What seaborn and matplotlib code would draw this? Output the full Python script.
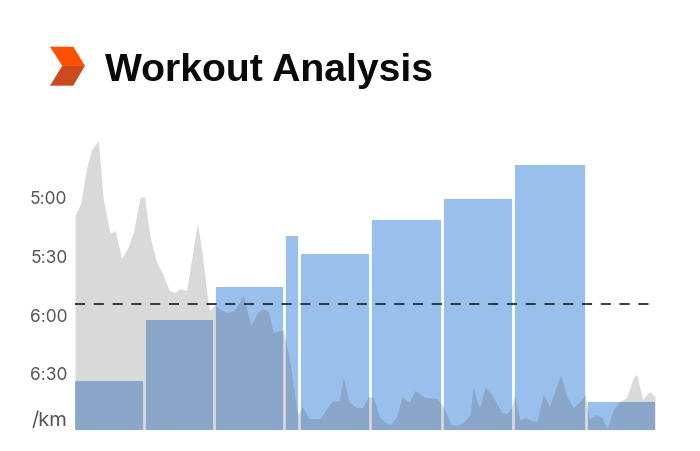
import matplotlib
matplotlib.use("Agg")
import matplotlib.pyplot as plt
from matplotlib.patches import Polygon
import numpy as np
import seaborn as sns

TITLE = "Workout Analysis"
tick_labels = ["5:00", "5:30", "6:00", "6:30", "/km"]
tick_paces = [300, 330, 360, 390, 412.9]

# Laps: length along the route and average pace in seconds per km
lap_lengths = [68.6, 70, 70.65, 14.75, 71, 71.5, 71.75, 72.25, 69.5]
lap_paces = [394.3, 362.9, 346, 320, 329.1, 312, 301, 283.9, 405]
target_pace = 355
slowest_pace = 419

# Elevation profile along the route
distance = [0, 5.7, 11.7, 16.7, 23.3, 28.3, 35, 40, 46.7, 53.3, 58.3, 65, 69.3, 75, 81.7, 86.7,
            94.3, 100, 105, 111.7, 122.3, 126.7, 133.3, 135, 140, 146.7, 153.3, 160, 168.3,
            175.7, 183.3, 188.3, 193.3, 198.3, 208.3, 215, 221.7, 223.3, 227.3, 234.3, 245,
            256.7, 264.3, 268.3, 274.3, 281.7, 287.7, 293.3, 298.3, 304.3, 310, 315.7, 321.7,
            327, 334.3, 340, 350, 361.7, 368.3, 375.7, 381.7, 388.3, 395, 398.3, 402.3, 405,
            410, 416.7, 426.7, 431.7, 436.7, 439.3, 445, 450, 456.7, 461.7, 468.3, 474.3,
            485.7, 491.7, 498.3, 505, 510, 514.3, 521, 526.7, 532.3, 538.3, 545, 551.7, 558.3,
            561.7, 567.7, 574.3, 580]
elevation = [214, 226, 262, 280, 289, 230, 196, 199, 171, 183, 197, 232, 233, 193, 167, 158,
             139, 137, 141, 139, 206, 180, 125, 119, 125, 119, 117, 120, 134,
             104, 118, 121, 118, 97, 100, 67, 20, 15, 23, 11, 11,
             28, 29, 52, 27, 22, 22, 33, 32, 13, 7, 5, 13,
             33, 27, 39, 32, 31, 23, 5, 4, 7, 15, 42, 27, 23,
             42, 35, 17, 16, 22, 35, 10, 12, 9, 8, 35, 23,
             55, 33, 22, 28, 35, 10, 15, 12, 1, 20, 28, 32, 52,
             55, 30, 38, 33]

BAR_BLUE = "#99BFEC"
AREA_GREY = "#565656"
TEXT_GREY = "#555555"

sns.set_theme(style="white")
plt.rcParams["font.family"] = ["Inter", "DejaVu Sans"]

fig = plt.figure(figsize=(7, 4.52), dpi=100)
ax = fig.add_axes([75 / 700, 21.5 / 452, 580 / 700, 300 / 452])

edges = np.concatenate([[0], np.cumsum(lap_lengths)])
mids = (edges[:-1] + edges[1:]) / 2
heights = slowest_pace - np.array(lap_paces)

sns.histplot(x=mids, weights=heights, bins=edges.tolist(), stat="count", color=BAR_BLUE,
             alpha=1, linewidth=0, ax=ax, zorder=1)
ax.vlines(edges[1:-1], 0, 160, color="white", lw=2.0, zorder=2)

ax.set_xlim(0, 580)
ax.set_ylim(0, 153.3)
ax.set_xticks([])
ax.set_xlabel("")
ax.set_ylabel("")
ax.set_yticks([slowest_pace - p for p in tick_paces])
ax.set_yticklabels(tick_labels, fontsize=12.5, color=TEXT_GREY)
ax.get_yticklabels()[-1].set_fontsize(14.5)
ax.tick_params(axis="y", length=0, pad=5.5)
sns.despine(ax=ax, left=True, bottom=True)

# Elevation runs on its own hidden scale, over the lap bars
top = ax.twinx()
top.set_ylim(0, 300)
top.set_xlim(0, 580)
top.fill_between(distance, elevation, 0, color=AREA_GREY, alpha=0.225, linewidth=0, zorder=3)
top.axhline((slowest_pace - target_pace) / 153.3 * 300, color="#2b2b2b", lw=1.3,
            dashes=(5.6, 4.8), zorder=4)
top.set_yticks([])
top.set_ylabel("")
sns.despine(ax=top, left=True, bottom=True, right=True)

# Chevron badge beside the title
to_fig = lambda pts: [(x / 700, 1 - y / 452) for x, y in pts]
fig.add_artist(Polygon(to_fig([(62.3, 66.7), (85, 66.7), (73.3, 86.7), (50, 86.7)]),
                       closed=True, facecolor="#CC4A1F", edgecolor="none"))
fig.add_artist(Polygon(to_fig([(50, 47.7), (73.3, 47.7), (85, 66.9), (62.3, 66.9)]),
                       closed=True, facecolor="#FF5000", edgecolor="none"))

fig.text(105 / 700, 1 - 80.7 / 452, TITLE, fontsize=28.2, fontweight="bold", color="#0a0a0a",
         family=["Liberation Sans", "DejaVu Sans"], ha="left", va="baseline")

fig.savefig("out.png", dpi=100)
